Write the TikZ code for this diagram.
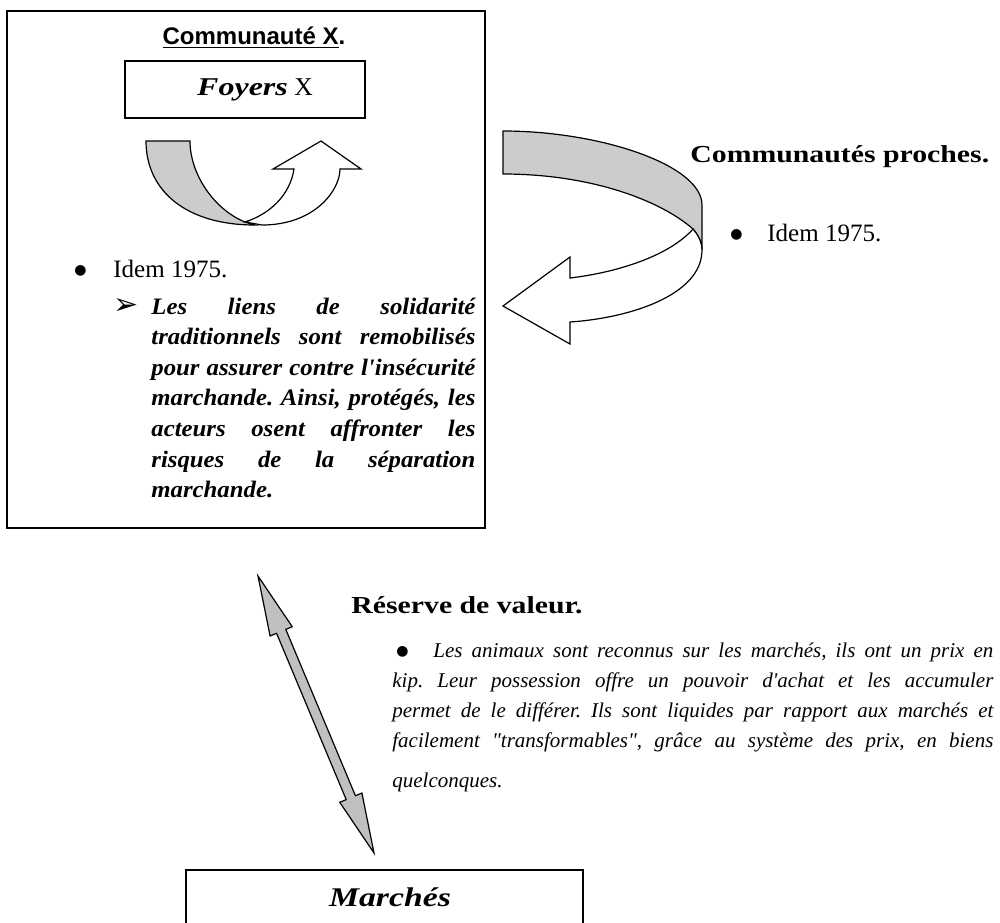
\documentclass[tikz,border=0pt]{standalone}
\usepackage{fontspec}
\setmainfont{Liberation Serif}
\newfontfamily\arialfont{Liberation Sans}
\newfontfamily\garfont[FakeStretch=1.22]{Liberation Serif}
\newfontfamily\garit{Liberation Serif}
\newfontfamily\bkfont[FakeStretch=1.25]{Liberation Serif}
\newfontfamily\bkpara[FakeStretch=1.05]{Liberation Serif}
\newfontfamily\dingfont{DejaVu Sans}
\usetikzlibrary{positioning, calc}
\definecolor{ribbon}{RGB}{204,204,204}
\definecolor{shaft}{RGB}{192,192,192}
\newcommand{\gros}[1]{\raisebox{#1}{\dingfont\fontsize{7}{7}\selectfont ●}}
\frenchspacing

\begin{document}
\begin{tikzpicture}[x=0.5pt, y=-0.5pt,
  cadre/.style={draw, line width=1pt, inner sep=0pt},
  boite/.style={draw, line width=0.6pt, inner sep=0pt},
  txt/.style={inner sep=0pt, anchor=base west},
  band/.style={draw, line width=0.6pt, fill=ribbon},
  blank/.style={draw, line width=0.6pt, fill=white},
  dbl/.style={draw, line width=0.6pt, fill=shaft, line join=miter}]
\useasboundingbox (0,0) rectangle (1000,922);
\node[cadre, minimum width=239pt, minimum height=258.5pt] (comm) at (246,269.5) {};
\node[txt, anchor=base, font=\fontsize{12}{14}\selectfont\arialfont\bfseries] (ctitle) at (254,44) {\underline{Communauté X}.};
\node[boite, minimum width=120pt, minimum height=28.5pt, font=\fontsize{12.8}{15}\selectfont] (foyers) at (245,89.5)
  {\hspace{10pt}{\bkfont\bfseries\itshape Foyers} X};
\filldraw[band] (146,141) -- (190,141) .. controls (190,175) and (215,210) .. (245,222)
  -- (255,225) .. controls (185,225) and (146,190) .. (146,141) -- cycle;
\filldraw[blank] (245,222) .. controls (270,214) and (290,195) .. (294,169) -- (273,169) -- (321,141)
  -- (361,169) -- (340,169) .. controls (340,190) and (315,225) .. (262,225) -- cycle;
\node[txt, font=\fontsize{12.5}{15}\selectfont] (idem1) at (74,277) {\makebox[19.5pt][l]{\gros{1.3pt}}Idem 1975.};
\node[txt, font=\fontsize{15}{16}\selectfont\dingfont] (puce) at (113,314) {➢};
\node[txt, text width=162pt, align=justify, font=\fontsize{11.8}{15.3}\selectfont\bkpara\bfseries\itshape] (liens) at (151,314)
  {\tolerance=10000\hyphenpenalty=10000 Les liens de solidarité\linebreak traditionnels sont remobilisés\linebreak
   pour assurer contre l'insécurité\linebreak marchande. Ainsi, protégés, les\linebreak
   acteurs osent affronter les\linebreak risques de la séparation\linebreak marchande.};
\filldraw[band] (503,131) .. controls (600,131) and (702,165) .. (702,205) -- (702,250)
  .. controls (702,243) and (699,236) .. (693,229) .. controls (660,200) and (590,174) .. (503,174) -- cycle;
\filldraw[blank] (693,229) .. controls (670,255) and (620,272) .. (570,278) -- (570,257) -- (503,306)
  -- (570,344) -- (570,322) .. controls (630,318) and (702,295) .. (702,250)
  .. controls (702,243) and (699,236) .. (693,229) -- cycle;
\node[txt, font=\fontsize{12.2}{14}\selectfont\garfont\bfseries] (proches) at (690,162) {Communautés proches.};
\node[txt, font=\fontsize{12.5}{15}\selectfont] (idem2) at (730,241) {\makebox[18.5pt][l]{\gros{1.3pt}}Idem 1975.};
\coordinate (haut) at (258,576);
\coordinate (bas) at (374,853);
\filldraw[dbl] (haut)
  -- ($(haut)!30pt!(bas)!6pt!90:(bas)$) -- ($(haut)!30pt!(bas)!2.5pt!90:(bas)$)
  -- ($(bas)!30pt!(haut)!2.5pt!-90:(haut)$) -- ($(bas)!30pt!(haut)!6pt!-90:(haut)$)
  -- (bas)
  -- ($(bas)!30pt!(haut)!6pt!90:(haut)$) -- ($(bas)!30pt!(haut)!2.5pt!90:(haut)$)
  -- ($(haut)!30pt!(bas)!2.5pt!-90:(bas)$) -- ($(haut)!30pt!(bas)!6pt!-90:(bas)$)
  -- cycle;
\node[txt, font=\fontsize{12.2}{14}\selectfont\garfont\bfseries] (reserve) at (351,613) {Réserve de valeur.};
\node[txt, text width=300.5pt, align=justify, font=\fontsize{10.5}{15}\selectfont\garit\itshape] (animaux) at (392,657)
  {\tolerance=10000\hyphenpenalty=10000 \makebox[20.5pt][l]{\hspace{2pt}\gros{1pt}}Les animaux sont reconnus sur les marchés, ils ont un prix en\linebreak
   kip. Leur possession offre un pouvoir d'achat et les accumuler\linebreak
   permet de le différer. Ils sont liquides par rapport aux marchés et\linebreak
   facilement "transformables", grâce au système des prix, en biens\vspace{5pt}\linebreak
   quelconques.};
\node[cadre, anchor=north, minimum width=198.5pt, inner ysep=8pt, text height=10pt, text depth=14.5pt,
  font=\fontsize{13.5}{16}\selectfont\bkfont\bfseries\itshape] (marches) at (384.5,869) {\hspace{5.5pt}Marchés};
\end{tikzpicture}
\end{document}
